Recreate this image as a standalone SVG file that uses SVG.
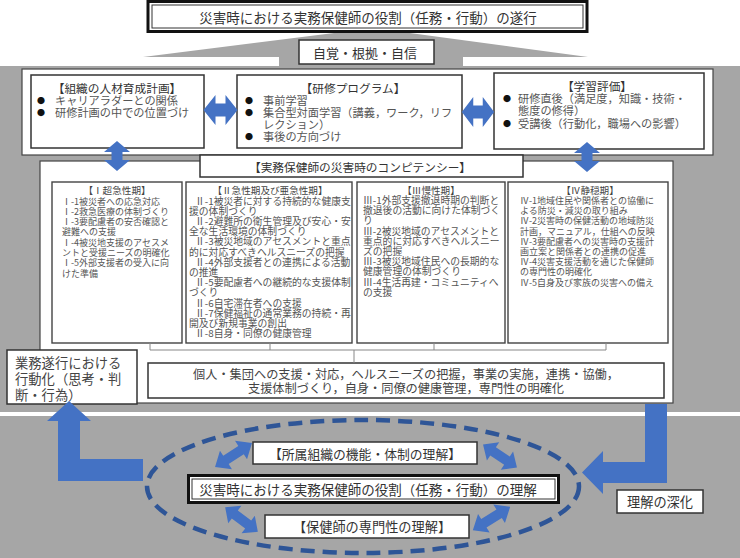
<svg xmlns="http://www.w3.org/2000/svg" width="740" height="558" viewBox="0 0 740 558">
<style>
text{font-family:"Noto Sans CJK JP","Noto Sans",sans-serif;dominant-baseline:central}
.box{fill:#fff;stroke:#333;stroke-width:1.5}
.col{fill:#fff;stroke:#444;stroke-width:1.4}
.panel{fill:#fff;stroke:#444;stroke-width:1.2}
.gray{fill:#a6a6a6}
.blue{fill:#4472c4}
.t13{font-size:13.5px;fill:#333}
.tt{font-size:11.7px;fill:#333}
.tb{font-size:11.2px;fill:#555}
.bul{font-size:8px;fill:#111}
.c9{font-size:9px;fill:#555}
.c10{font-size:9.8px;fill:#555}
.ct{font-size:9.6px;fill:#444}
.line{stroke:#888;stroke-width:1;fill:none}
</style>
<defs>
<path id="hdbl" d="M -17,0 L -5,-15 L -5,-6.5 L 5,-6.5 L 5,-15 L 17,0 L 5,15 L 5,6.5 L -5,6.5 L -5,15 Z"/>
<path id="vdbl" d="M 0,-15 L 13,-4 L 5.5,-4 L 5.5,4 L 13,4 L 0,15 L -13,4 L -5.5,4 L -5.5,-4 L -13,-4 Z"/>
<path id="ddbl" d="M -22,0 L -9,-11 L -9,-5 L 9,-5 L 9,-11 L 22,0 L 9,11 L 9,5 L -9,5 L -9,11 Z"/>
</defs>

<!-- backgrounds -->
<g id="background">
<rect x="0" y="0" width="740" height="558" fill="#fff"/>
<polygon class="gray" points="143,57 350,31 395,31 588,57"/>
<rect class="gray" x="279" y="55" width="184" height="13"/>
<rect class="gray" x="0" y="66" width="740" height="346"/>
<rect class="gray" x="0" y="416" width="740" height="142"/>
<rect class="panel" x="22" y="69" width="691" height="86"/>
<rect class="panel" x="40" y="161" width="633" height="242"/>
</g>

<g id="title">
<rect x="148" y="1.5" width="439" height="30" fill="#fff" stroke="#111" stroke-width="3"/>
<rect x="152" y="5" width="431" height="23" fill="none" stroke="#333" stroke-width="1"/>
<text class="t13" x="368" y="17" text-anchor="middle">災害時における実務保健師の役割（任務・行動）の遂行</text>
</g>

<g id="jikaku">
<rect class="box" x="299" y="40" width="135" height="24"/>
<text x="365" y="52" text-anchor="middle" style="font-size:13px;fill:#333">自覚・根拠・自信</text>
</g>

<g id="soshiki">
<rect class="box" x="31" y="75" width="173" height="73"/>
<text class="tt" x="117" y="87" text-anchor="middle">【組織の人材育成計画】</text>
<text class="bul" x="41" y="100" text-anchor="middle">●</text>
<text class="tb" x="55" y="100">キャリアラダーとの関係</text>
<text class="bul" x="41" y="112" text-anchor="middle">●</text>
<text class="tb" x="55" y="112">研修計画の中での位置づけ</text>
</g>

<g id="kenshu">
<rect class="box" x="237" y="75" width="225" height="73"/>
<text class="tt" x="353" y="87" text-anchor="middle">【研修プログラム】</text>
<text class="bul" x="249" y="100" text-anchor="middle">●</text>
<text class="tb" x="263" y="100">事前学習</text>
<text class="bul" x="249" y="112" text-anchor="middle">●</text>
<text class="tb" x="263" y="112">集合型対面学習（講義，ワーク，リフ</text>
<text class="tb" x="263" y="124">レクション）</text>
<text class="bul" x="249" y="136" text-anchor="middle">●</text>
<text class="tb" x="263" y="136">事後の方向づけ</text>
</g>

<g id="gakushu">
<rect class="box" x="494" y="73" width="210" height="76"/>
<text class="tt" x="597" y="85" text-anchor="middle">【学習評価】</text>
<text class="bul" x="507" y="98" text-anchor="middle">●</text>
<text class="tb" x="518" y="98">研修直後（満足度，知識・技術・</text>
<text class="tb" x="518" y="110">態度の修得）</text>
<text class="bul" x="507" y="123" text-anchor="middle">●</text>
<text class="tb" x="518" y="123">受講後（行動化，職場への影響）</text>
</g>

<g id="competency-header">
<rect class="box" x="200" y="155" width="323" height="22"/>
<text class="tt" x="360" y="166" text-anchor="middle">【実務保健師の災害時のコンピテンシー】</text>
</g>

<g id="col1">
<rect class="col" x="52" y="182" width="130" height="161"/>
<text class="ct" x="117" y="190" text-anchor="middle">【Ⅰ超急性期】</text>
<text class="c9" x="62" y="200">
<tspan x="62" y="200.5">Ⅰ-1被災者への応急対応</tspan>
<tspan x="62" y="210.8">Ⅰ-2救急医療の体制づくり</tspan>
<tspan x="62" y="221.1">Ⅰ-3要配慮者の安否確認と</tspan>
<tspan x="62" y="231.4">避難への支援</tspan>
<tspan x="62" y="241.7">Ⅰ-4被災地支援のアセスメ</tspan>
<tspan x="62" y="252">ントと受援ニーズの明確化</tspan>
<tspan x="62" y="262.3">Ⅰ-5外部支援者の受入に向</tspan>
<tspan x="62" y="272.6">けた準備</tspan>
</text>
</g>

<g id="col2">
<rect class="col" x="186" y="182" width="166" height="161"/>
<text class="ct" x="270" y="190" text-anchor="middle">【Ⅱ急性期及び亜急性期】</text>
<text class="c10">
<tspan x="195" y="200.5">Ⅱ-1被災者に対する持続的な健康支</tspan>
<tspan x="189" y="210.7">援の体制づくり</tspan>
<tspan x="195" y="220.9">Ⅱ-2避難所の衛生管理及び安心・安</tspan>
<tspan x="189" y="231.1">全な生活環境の体制づくり</tspan>
<tspan x="195" y="241.3">Ⅱ-3被災地域のアセスメントと重点</tspan>
<tspan x="189" y="251.5">的に対応すべきヘルスニーズの把握</tspan>
<tspan x="195" y="261.7">Ⅱ-4外部支援者との連携による活動</tspan>
<tspan x="189" y="271.9">の推進</tspan>
<tspan x="195" y="282.1">Ⅱ-5要配慮者への継続的な支援体制</tspan>
<tspan x="189" y="292.3">づくり</tspan>
<tspan x="195" y="302.5">Ⅱ-6自宅滞在者への支援</tspan>
<tspan x="195" y="312.7">Ⅱ-7保健福祉の通常業務の持続・再</tspan>
<tspan x="189" y="322.9">開及び新規事業の創出</tspan>
<tspan x="195" y="333.1">Ⅱ-8自身・同僚の健康管理</tspan>
</text>
</g>

<g id="col3">
<rect class="col" x="357" y="182" width="148" height="161"/>
<text class="ct" x="431" y="190" text-anchor="middle">【Ⅲ慢性期】</text>
<text class="c10">
<tspan x="363" y="200">Ⅲ-1外部支援撤退時期の判断と</tspan>
<tspan x="363" y="210.2">撤退後の活動に向けた体制づく</tspan>
<tspan x="363" y="220.4">り</tspan>
<tspan x="363" y="230.6">Ⅲ-2被災地域のアセスメントと</tspan>
<tspan x="363" y="240.8">重点的に対応すべきヘルスニー</tspan>
<tspan x="363" y="251">ズの把握</tspan>
<tspan x="363" y="261.2">Ⅲ-3被災地域住民への長期的な</tspan>
<tspan x="363" y="271.4">健康管理の体制づくり</tspan>
<tspan x="363" y="281.6">Ⅲ-4生活再建・コミュニティへ</tspan>
<tspan x="363" y="291.8">の支援</tspan>
</text>
</g>

<g id="col4">
<rect class="col" x="508" y="182" width="160" height="161"/>
<text class="ct" x="590" y="190" text-anchor="middle">【Ⅳ静穏期】</text>
<text class="c9">
<tspan x="520" y="200">Ⅳ-1地域住民や関係者との協働に</tspan>
<tspan x="520" y="210.2">よる防災・減災の取り組み</tspan>
<tspan x="520" y="220.4">Ⅳ-2災害時の保健活動の地域防災</tspan>
<tspan x="520" y="230.6">計画，マニュアル，仕組への反映</tspan>
<tspan x="520" y="240.8">Ⅳ-3要配慮者への災害時の支援計</tspan>
<tspan x="520" y="251">画立案と関係者との連携の促進</tspan>
<tspan x="520" y="261.2">Ⅳ-4災害支援活動を通じた保健師</tspan>
<tspan x="520" y="271.4">の専門性の明確化</tspan>
<tspan x="520" y="281.6">Ⅳ-5自身及び家族の災害への備え</tspan>
</text>
</g>

<g id="summary">
<rect class="box" x="148" y="363" width="516" height="35"/>
<text x="406" y="373.5" text-anchor="middle" style="font-size:12.2px;fill:#444">個人・集団への支援・対応，ヘルスニーズの把握，事業の実施，連携・協働，</text>
<text x="406" y="387.5" text-anchor="middle" style="font-size:12.2px;fill:#444">支援体制づくり，自身・同僚の健康管理，専門性の明確化</text>
</g>

<g id="gyomu">
<rect class="box" x="7" y="350" width="130" height="54"/>
<text x="15" y="362" style="font-size:13.3px;fill:#444">業務遂行における</text>
<text x="15" y="378" style="font-size:13.3px;fill:#444">行動化（思考・判</text>
<text x="15" y="394" style="font-size:13.3px;fill:#444">断・行為）</text>
</g>

<g id="connectors">
<path class="line" d="M 150,343 V 350 M 270,343 V 350 M 434,343 V 350 M 606,343 V 350 M 150,350 H 606 M 354,350 V 363"/>
<use href="#hdbl" class="blue" transform="translate(220.5,110)"/>
<use href="#hdbl" class="blue" transform="translate(478,112) scale(0.95,1)"/>
<use href="#vdbl" class="blue" transform="translate(117,156)"/>
<use href="#vdbl" class="blue" transform="translate(587,157)"/>
<path class="blue" d="M 69,401 L 91,421 L 80,421 L 80,459 L 143,459 L 143,481 L 58,481 L 58,421 L 47,421 Z"/>
<path class="blue" d="M 645,404 L 667,404 L 667,483 L 603,483 L 603,494 L 582,472.5 L 603,451 L 603,462 L 645,462 Z"/>
<ellipse cx="363" cy="486.5" rx="216" ry="66.5" fill="none" stroke="#2e5597" stroke-width="4.5" stroke-dasharray="14 8"/>
<use href="#ddbl" class="blue" transform="translate(233.5,455) rotate(-33)"/>
<use href="#ddbl" class="blue" transform="translate(500,456) rotate(34) scale(0.93,1)"/>
<use href="#ddbl" class="blue" transform="translate(241.5,519.5) rotate(37) scale(0.93,1)"/>
<use href="#ddbl" class="blue" transform="translate(491.5,518.5) rotate(-32)"/>
</g>

<g id="shozoku">
<rect class="box" x="253" y="442" width="224" height="22"/>
<text x="365" y="453" text-anchor="middle" style="font-size:12.8px;fill:#333">【所属組織の機能・体制の理解】</text>
</g>

<g id="yakuwari">
<rect x="188.5" y="475.5" width="370" height="27" fill="#fff" stroke="#111" stroke-width="3"/>
<rect x="192" y="479" width="363" height="20" fill="none" stroke="#333" stroke-width="1"/>
<text class="t13" x="368" y="489" text-anchor="middle">災害時における実務保健師の役割（任務・行動）の理解</text>
</g>

<g id="senmonsei">
<rect class="box" x="265" y="515" width="204" height="23"/>
<text x="372" y="526.5" text-anchor="middle" style="font-size:13.2px;fill:#333">【保健師の専門性の理解】</text>
</g>

<g id="shinka">
<rect class="box" x="617" y="490" width="86" height="23"/>
<text x="660" y="501.5" text-anchor="middle" style="font-size:13.2px;fill:#333">理解の深化</text>
</g>
</svg>
